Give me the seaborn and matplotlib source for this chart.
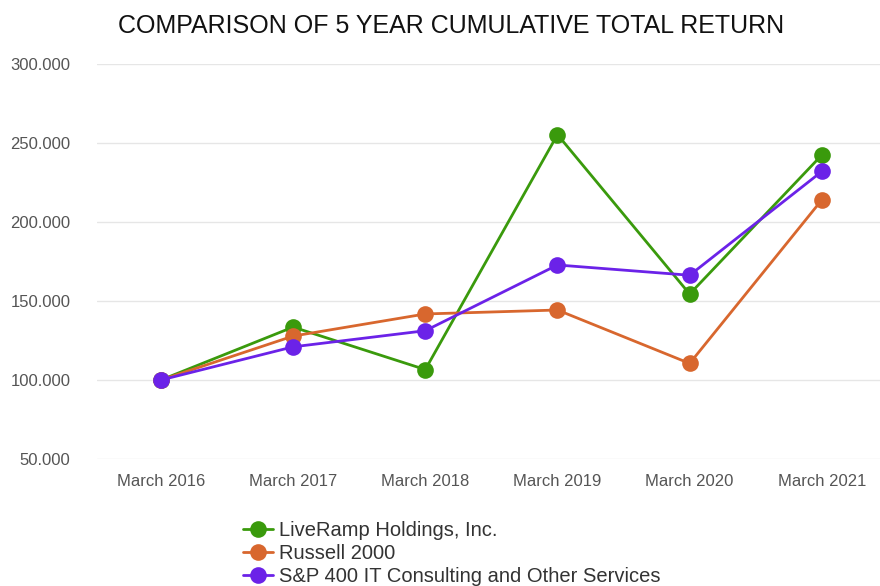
import pandas as pd
import matplotlib.pyplot as plt
import seaborn as sns

# Valores
years = ["March 2016", "March 2017", "March 2018", "March 2019", "March 2020", "March 2021"]
liveramp = [100.0, 133.5, 106.6, 255.3, 154.4, 242.4]
russell = [100.0, 127.8, 141.8, 144.3, 110.5, 214.0]
sp400 = [100.0, 121.0, 131.2, 172.8, 166.3, 232.0]
series_names = ["LiveRamp Holdings, Inc.", "Russell 2000", "S&P 400 IT Consulting and Other Services"]
colors = ["#3a9a0c", "#d8672e", "#6b22e8"]

df = pd.DataFrame({
    "year": years * 3,
    "value": liveramp + russell + sp400,
    "serie": [series_names[0]] * 6 + [series_names[1]] * 6 + [series_names[2]] * 6,
})
df["pos"] = df["year"].map({y: i for i, y in enumerate(years)})

sns.set_theme(style="white")
plt.rcParams["font.family"] = ["Liberation Sans", "DejaVu Sans"]

fig = plt.figure(figsize=(8.8, 5.86), dpi=100)
ax = fig.add_axes([0.110, 0.2167, 0.890, 0.6741])

sns.lineplot(data=df, x="pos", y="value", hue="serie", palette=colors,
             marker="o", markersize=12, markeredgewidth=0, linewidth=2,
             ax=ax, clip_on=False)

ax.set_xlim(-0.485, 5.44)
ax.set_ylim(50, 300)
ax.set_yticks([50, 100, 150, 200, 250, 300])
ax.set_yticklabels([f"{v:.3f}" for v in [50, 100, 150, 200, 250, 300]])
ax.set_xticks(range(len(years)))
ax.set_xticklabels(years)
ax.tick_params(axis="both", colors="#555555", labelsize=12, length=0)
ax.tick_params(axis="y", pad=19)
ax.tick_params(axis="x", pad=11)
ax.set_xlabel("")
ax.set_ylabel("")
ax.grid(axis="y", color="#e6e6e6", linewidth=1)
for s in ax.spines.values():
    s.set_visible(False)

fig.text(0.513, 0.955, "COMPARISON OF 5 YEAR CUMULATIVE TOTAL RETURN",
         ha="center", va="center", fontsize=18, color="#111111")

handles, labels = ax.get_legend_handles_labels()
ax.legend(handles, labels, loc="upper left", bbox_to_anchor=(0.265, 0.128),
          bbox_transform=fig.transFigure, frameon=False, fontsize=14.5,
          labelcolor="#333333", handlelength=1.5, handletextpad=0.25,
          labelspacing=0.2, borderpad=0, markerscale=1.0)

fig.savefig("out.png", dpi=100)
